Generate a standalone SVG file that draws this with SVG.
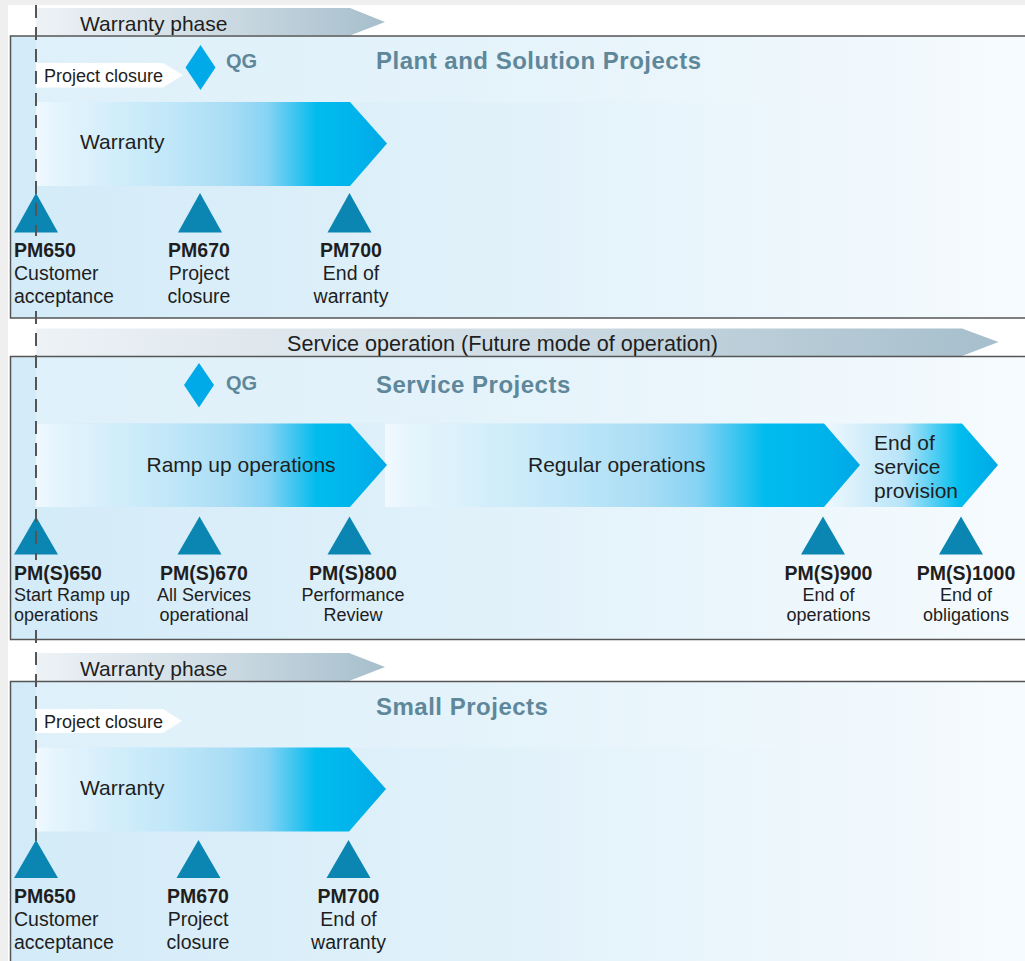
<svg xmlns="http://www.w3.org/2000/svg" width="1025" height="961" viewBox="0 0 1025 961">
<style>
text{font-family:"Liberation Sans",Arial,sans-serif;fill:#1e1e1e}
.ph{font-size:21px}
.svc{font-size:21.6px}
.pc{font-size:18px}
.big{font-size:21px}
.qg{font-size:20px;font-weight:bold;fill:#5f879a}
.title{font-size:24px;font-weight:bold;fill:#5f879a;letter-spacing:0.5px}
.lb{font-size:19.5px;font-weight:bold}
.lr{font-size:19.5px}
.lr2{font-size:18px}
.mid{text-anchor:middle}
.panel{stroke:#555;stroke-width:1.5}
.tri{fill:#0b86b3}
.dia{fill:#00a9e8}
.dash{stroke:#555;stroke-width:2;stroke-dasharray:13 9;fill:none}
</style>
<defs>
<linearGradient id="gPanel" x1="0" y1="0" x2="1" y2="0">
<stop offset="0" stop-color="#d3ebf8"/>
<stop offset="0.45" stop-color="#e0f1fa"/>
<stop offset="1" stop-color="#f6fbfe"/>
</linearGradient>
<linearGradient id="gBand" x1="0" y1="0" x2="1" y2="0">
<stop offset="0" stop-color="#ffffff" stop-opacity="0.25"/>
<stop offset="1" stop-color="#ffffff" stop-opacity="0"/>
</linearGradient>
<linearGradient id="gPhase" x1="0" y1="0" x2="1" y2="0">
<stop offset="0" stop-color="#edf2f6"/>
<stop offset="0.5" stop-color="#cfdce4"/>
<stop offset="1" stop-color="#a6bfcc"/>
</linearGradient>
<linearGradient id="gBlue" x1="0" y1="0" x2="1" y2="0">
<stop offset="0" stop-color="#f0f9fe"/>
<stop offset="0.05" stop-color="#e6f5fd"/>
<stop offset="0.4" stop-color="#bee6f8"/>
<stop offset="0.55" stop-color="#a9ddf5"/>
<stop offset="0.66" stop-color="#86d3f4"/>
<stop offset="0.74" stop-color="#3cc5f0"/>
<stop offset="0.8" stop-color="#00bcee"/>
<stop offset="0.9" stop-color="#00b5ec"/>
<stop offset="1" stop-color="#00a9e6"/>
</linearGradient>
<linearGradient id="gEos" x1="0" y1="0" x2="1" y2="0">
<stop offset="0" stop-color="#eef8fe"/>
<stop offset="0.45" stop-color="#b8e4f8"/>
<stop offset="0.78" stop-color="#00bdee"/>
<stop offset="1" stop-color="#00a9e6"/>
</linearGradient>
</defs>

<rect x="0" y="0" width="1025" height="961" fill="#efefef"/>
<rect x="8" y="5" width="1017" height="956" fill="#ffffff"/>

<!-- Panel 1: Plant and Solution Projects -->
<g id="phase-warranty-1">
<polygon points="36,8 350,8 385,22 350,35.5 36,35.5" fill="url(#gPhase)"/>
<text class="ph" x="80" y="30.5">Warranty phase</text>
</g>
<g id="panel-plant">
<rect class="panel" x="10.5" y="36" width="1020" height="282" fill="url(#gPanel)"/>
<rect x="36" y="37" width="989" height="65" fill="url(#gBand)"/>
<text class="title" x="376" y="69">Plant and Solution Projects</text>
</g>
<g id="closure-1">
<polygon points="36,63 163,63 183,75 163,87.5 36,87.5" fill="#ffffff"/>
<text class="pc" x="44" y="82">Project closure</text>
</g>
<g id="qg-1">
<polygon class="dia" points="200.5,45 215.5,67.5 200.5,90 185.5,67.5"/>
<text class="qg" x="226" y="67.5">QG</text>
</g>
<g id="warranty-1">
<polygon points="36,102 350,102 387,143.5 350,186 36,186" fill="url(#gBlue)"/>
<text class="big" x="80" y="149">Warranty</text>
</g>
<g id="pm650-1">
<polygon class="tri" points="36,193 58,232.5 14,232.5"/>
<text class="lb" x="14" y="257">PM650</text>
<text class="lr" x="14" y="280">Customer</text>
<text class="lr" x="14" y="302.5">acceptance</text>
</g>
<g id="pm670-1">
<polygon class="tri" points="200,193 222,232.5 178,232.5"/>
<text class="lb mid" x="199" y="257">PM670</text>
<text class="lr mid" x="199" y="280">Project</text>
<text class="lr mid" x="199" y="302.5">closure</text>
</g>
<g id="pm700-1">
<polygon class="tri" points="349.5,193 371.5,232.5 327.5,232.5"/>
<text class="lb mid" x="351" y="257">PM700</text>
<text class="lr mid" x="351" y="280">End of</text>
<text class="lr mid" x="351" y="302.5">warranty</text>
</g>

<!-- Panel 2: Service Projects -->
<g id="phase-service">
<polygon points="36,328.5 962,328.5 998.5,342 962,356 36,356" fill="url(#gPhase)"/>
<text class="svc" x="287" y="351">Service operation (Future mode of operation)</text>
</g>
<g id="panel-service">
<rect class="panel" x="10.5" y="356.5" width="1020" height="283" fill="url(#gPanel)"/>
<rect x="36" y="357.5" width="989" height="65.5" fill="url(#gBand)"/>
<text class="title" x="376" y="393">Service Projects</text>
</g>
<g id="qg-2">
<polygon class="dia" points="199,363 214,385 199,407.5 184,385"/>
<text class="qg" x="226" y="390">QG</text>
</g>
<g id="eos">
<polygon points="824,423.5 962,423.5 998,465 962,507 824,507" fill="url(#gEos)"/>
<text class="big" x="874" y="450">End of</text>
<text class="big" x="874" y="474">service</text>
<text class="big" x="874" y="497.5">provision</text>
</g>
<g id="regular">
<polygon points="385,423.5 824,423.5 860,465 824,507 385,507" fill="url(#gBlue)"/>
<text class="big" x="528" y="472">Regular operations</text>
</g>
<g id="rampup">
<polygon points="36,423.5 350,423.5 387,465 350,507 36,507" fill="url(#gBlue)"/>
<text class="big" x="146.5" y="472">Ramp up operations</text>
</g>
<g id="pms650">
<polygon class="tri" points="36,516.5 58,554.5 14,554.5"/>
<text class="lb" x="14" y="579.5">PM(S)650</text>
<text class="lr2" x="14" y="600.5">Start Ramp up</text>
<text class="lr2" x="14" y="621">operations</text>
</g>
<g id="pms670">
<polygon class="tri" points="199.5,516.5 221.5,554.5 177.5,554.5"/>
<text class="lb mid" x="204" y="579.5">PM(S)670</text>
<text class="lr2 mid" x="204" y="600.5">All Services</text>
<text class="lr2 mid" x="204" y="621">operational</text>
</g>
<g id="pms800">
<polygon class="tri" points="349.5,516.5 371.5,554.5 327.5,554.5"/>
<text class="lb mid" x="353" y="579.5">PM(S)800</text>
<text class="lr2 mid" x="353" y="600.5">Performance</text>
<text class="lr2 mid" x="353" y="621">Review</text>
</g>
<g id="pms900">
<polygon class="tri" points="823,516.5 845,554.5 801,554.5"/>
<text class="lb mid" x="828.5" y="579.5">PM(S)900</text>
<text class="lr2 mid" x="828.5" y="600.5">End of</text>
<text class="lr2 mid" x="828.5" y="621">operations</text>
</g>
<g id="pms1000">
<polygon class="tri" points="961,516.5 983,554.5 939,554.5"/>
<text class="lb mid" x="966" y="579.5">PM(S)1000</text>
<text class="lr2 mid" x="966" y="600.5">End of</text>
<text class="lr2 mid" x="966" y="621">obligations</text>
</g>

<!-- Panel 3: Small Projects -->
<g id="phase-warranty-3">
<polygon points="36,653 349,653 385,667 349,681 36,681" fill="url(#gPhase)"/>
<text class="ph" x="80" y="675.5">Warranty phase</text>
</g>
<g id="panel-small">
<rect class="panel" x="10.5" y="681.5" width="1020" height="290" fill="url(#gPanel)"/>
<rect x="36" y="682.5" width="989" height="65" fill="url(#gBand)"/>
<text class="title" x="376" y="715">Small Projects</text>
</g>
<g id="closure-3">
<polygon points="36,709 163,709 182,721 163,733 36,733" fill="#ffffff"/>
<text class="pc" x="44" y="727.5">Project closure</text>
</g>
<g id="warranty-3">
<polygon points="36,747.5 349,747.5 386,789 349,831.5 36,831.5" fill="url(#gBlue)"/>
<text class="big" x="80" y="795">Warranty</text>
</g>

<g id="connectors">
<line class="dash" x1="36" y1="5" x2="36" y2="236"/>
<line class="dash" x1="36" y1="311" x2="36" y2="560"/>
<line class="dash" x1="36" y1="630" x2="36" y2="842"/>
</g>

<g id="pm650-3">
<polygon class="tri" points="36,840 58,878 14,878"/>
<text class="lb" x="14" y="902.5">PM650</text>
<text class="lr" x="14" y="926">Customer</text>
<text class="lr" x="14" y="948.5">acceptance</text>
</g>
<g id="pm670-3">
<polygon class="tri" points="198.5,840 220.5,878 176.5,878"/>
<text class="lb mid" x="198" y="902.5">PM670</text>
<text class="lr mid" x="198" y="926">Project</text>
<text class="lr mid" x="198" y="948.5">closure</text>
</g>
<g id="pm700-3">
<polygon class="tri" points="348.5,840 370.5,878 326.5,878"/>
<text class="lb mid" x="348.5" y="902.5">PM700</text>
<text class="lr mid" x="348.5" y="926">End of</text>
<text class="lr mid" x="348.5" y="948.5">warranty</text>
</g>
</svg>
